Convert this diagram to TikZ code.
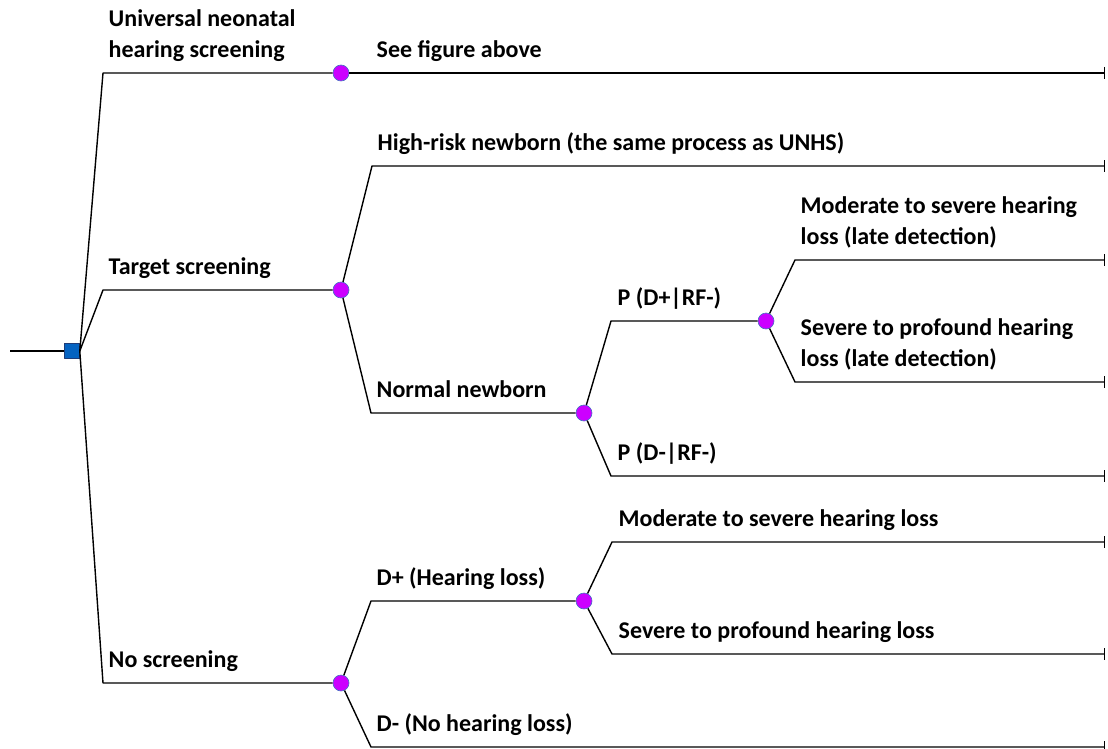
\documentclass[tikz,border=0pt]{standalone}
\usepackage{fontspec}
\setmainfont{Carlito}
\usetikzlibrary{positioning, arrows.meta}
\definecolor{chancefill}{RGB}{204,0,255}
\definecolor{chanceline}{RGB}{68,114,196}
\definecolor{decfill}{RGB}{5,99,193}
\definecolor{decline}{RGB}{30,60,120}

\begin{document}
\begin{tikzpicture}[x=1pt, y=-1pt, line width=1.4pt, line join=round,
  decision/.style={rectangle, draw=decline, fill=decfill, line width=0.6pt, minimum size=15pt, inner sep=0pt},
  chance/.style={circle, draw=chanceline, fill=chancefill, line width=0.6pt, minimum size=16pt, inner sep=0pt},
  lbl/.style={font=\bfseries\fontsize{24}{31}\selectfont, align=left, inner sep=0pt, text depth=5pt},
  leaf/.style={-{Bar[width=12pt, line width=1.4pt]}}
]
\useasboundingbox (0,0) rectangle (1108,749);

% Entscheidung und Zufallsknoten
\coordinate (start) at (10,351);
\node[decision] (D)  at (72,351)  {};
\node[chance]   (UN) at (341,73)  {};
\node[chance]   (TS) at (341,290) {};
\node[chance]   (NS) at (341,683) {};
\node[chance]   (NN) at (584,413) {};
\node[chance]   (DP) at (766,321) {};
\node[chance]   (DH) at (584,601) {};

% Knickpunkte
\coordinate (eUN) at (103,73);
\coordinate (eTS) at (103,290);
\coordinate (eNS) at (103,683);
\coordinate (eSF) at (371,73);
\coordinate (eHR) at (372,166);
\coordinate (eNN) at (371,413);
\coordinate (eDP) at (611,321);
\coordinate (eDM) at (611,476);
\coordinate (eML) at (795,260);
\coordinate (eSL) at (795,382);
\coordinate (eDH) at (371,601);
\coordinate (eDN) at (371,747);
\coordinate (eMS) at (612,542);
\coordinate (eSP) at (612,654);

% Endpunkte
\coordinate (tUN) at (1105,73);
\coordinate (tHR) at (1105,166);
\coordinate (tML) at (1105,260);
\coordinate (tSL) at (1105,382);
\coordinate (tDM) at (1105,476);
\coordinate (tMS) at (1105,542);
\coordinate (tSP) at (1105,654);
\coordinate (tDN) at (1105,747);

% Zweige
\draw (start) -- (D);
\draw (D.east) -- (eUN) -- (UN);
\draw (D.east) -- (eTS) -- (TS);
\draw (D.east) -- (eNS) -- (NS);
\draw[leaf] (UN) -- (eSF) -- (tUN);
\draw[leaf] (TS) -- (eHR) -- (tHR);
\draw (TS) -- (eNN) -- (NN);
\draw (NN) -- (eDP) -- (DP);
\draw[leaf] (NN) -- (eDM) -- (tDM);
\draw[leaf] (DP) -- (eML) -- (tML);
\draw[leaf] (DP) -- (eSL) -- (tSL);
\draw (NS) -- (eDH) -- (DH);
\draw[leaf] (NS) -- (eDN) -- (tDN);
\draw[leaf] (DH) -- (eMS) -- (tMS);
\draw[leaf] (DH) -- (eSP) -- (tSP);

% Beschriftungen
\node[lbl, above right=10pt and 5pt of eUN] (lUN) {Universal neonatal\\hearing screening};
\node[lbl, above right=10pt and 5pt of eTS] (lTS) {Target screening};
\node[lbl, above right=10pt and 5pt of eNS] (lNS) {No screening};
\node[lbl, above right=10pt and 5pt of eSF] (lSF) {See figure above};
\node[lbl, above right=10pt and 5pt of eHR] (lHR) {High-risk newborn (the same process as UNHS)};
\node[lbl, above right=10pt and 5pt of eNN] (lNN) {Normal newborn};
\node[lbl, above right=10pt and 6pt of eDP] (lDP) {P (D+|RF-)};
\node[lbl, above right=10pt and 6pt of eDM] (lDM) {P (D-|RF-)};
\node[lbl, above right=10pt and 5pt of eML] (lML) {Moderate to severe hearing\\loss (late detection)};
\node[lbl, above right=10pt and 5pt of eSL] (lSL) {Severe to profound hearing\\loss (late detection)};
\node[lbl, above right=10pt and 5pt of eDH] (lDH) {D+ (Hearing loss)};
\node[lbl, above right=10pt and 5pt of eDN] (lDN) {D- (No hearing loss)};
\node[lbl, above right=10pt and 6pt of eMS] (lMS) {Moderate to severe hearing loss};
\node[lbl, above right=10pt and 6pt of eSP] (lSP) {Severe to profound hearing loss};
\end{tikzpicture}
\end{document}
